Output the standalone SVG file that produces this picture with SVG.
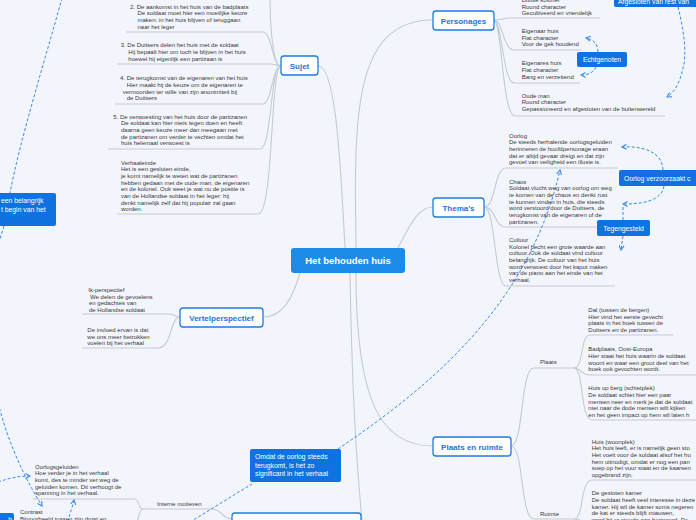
<svg xmlns="http://www.w3.org/2000/svg" width="696" height="520" viewBox="0 0 696 520">
<defs>
<style>
.bg{fill:#f3f5fc}
.t{font-family:"Liberation Sans",Arial,sans-serif;font-size:6px;fill:#3a3a3a}
.main rect{fill:#ffffff;stroke:#1f7be3;stroke-width:1.3}
.main text{font-family:"Liberation Sans",Arial,sans-serif;font-size:8px;font-weight:bold;fill:#2a72d6;text-anchor:middle}
.call rect{fill:#0f72e0}
.call text{font-family:"Liberation Sans",Arial,sans-serif;font-size:6.8px;fill:#ffffff}
.ln{fill:none;stroke:#c6cad3;stroke-width:1.1}
.rel{fill:none;stroke:#3a8ae6;stroke-width:1;stroke-dasharray:3,2}
</style>
<marker id="ar" viewBox="0 0 6 6" refX="5" refY="3" markerWidth="6" markerHeight="6" orient="auto" markerUnits="userSpaceOnUse">
<path d="M0.5,0.5 L5,3 L0.5,5.5" fill="none" stroke="#3a8ae6" stroke-width="1.1"/>
</marker>
</defs>
<rect class="bg" x="0" y="0" width="696" height="520"/>

<g id="connectors">
<!-- central to main topics -->
<path class="ln" d="M345,248 C340,150 335,66 318,66"/>
<path class="ln" d="M356,248 C354,120 352,20 433,20"/>
<path class="ln" d="M398,248 C410,225 418,207 433,207"/>
<path class="ln" d="M300,273 C292,300 282,317 263,317"/>
<path class="ln" d="M356,273 C356,400 380,446 433,446"/>
<path class="ln" d="M350,273 C352,400 358,480 362,520"/>
<!-- Sujet children -->
<path class="ln" d="M281,66 C272,66 270,20 270,-5"/>
<path class="ln" d="M281,66 C272,66 272,32 263,32 L126,32"/>
<path class="ln" d="M281,66 C276,66 276,64 270,64 L117,64"/>
<path class="ln" d="M281,66 C272,66 272,104 263,104 L115,104"/>
<path class="ln" d="M281,66 C270,66 272,149 260,149 L108,149"/>
<path class="ln" d="M281,66 C270,66 274,214 258,214 L117,214"/>
<!-- Personages children -->
<path class="ln" d="M494,20 C502,20 503,18 510,18 L600,18"/>
<path class="ln" d="M494,20 C503,20 503,50 514,50 L582,50"/>
<path class="ln" d="M494,20 C502,20 503,83 514,83 L580,83"/>
<path class="ln" d="M494,20 C502,20 502,116 515,116 L665,116"/>
<!-- Thema's children -->
<path class="ln" d="M484,207 C496,207 494,168 506,168 L618,168"/>
<path class="ln" d="M484,207 C496,207 494,227 506,227 L620,227"/>
<path class="ln" d="M484,207 C496,207 494,286 506,286 L615,286"/>
<!-- Vertelperspectief children -->
<path class="ln" d="M180,317 C174,317 176,314 168,314 L82,314"/>
<path class="ln" d="M180,317 C170,317 172,348 158,348 L82,348"/>
<!-- Plaats en ruimte -->
<path class="ln" d="M511,446 C524,446 520,368 534,368 L574,368"/>
<path class="ln" d="M511,446 C524,446 520,519 534,519 L574,519"/>
<path class="ln" d="M574,368 C584,368 580,335 590,335 L673,335"/>
<path class="ln" d="M574,368 C582,368 580,375 590,375 L696,375"/>
<path class="ln" d="M574,368 C584,368 580,420 592,420 L696,420"/>
<path class="ln" d="M574,519 C584,519 580,480 592,480 L696,480"/>
<path class="ln" d="M574,519 C584,519 582,525 590,528"/>
<!-- Interne motieven -->
<path class="ln" d="M232,519 C222,519 222,509 212,509 L143,509"/>
<path class="ln" d="M143,509 C138,509 140,499 134,499 L33,499"/>
<path class="ln" d="M143,509 C138,509 140,522 134,524"/>
<!-- relations (dashed) -->
<path class="rel" d="M62,-2 C45,60 20,140 10,193"/>
<path class="rel" d="M4,226 C-30,330 -5,430 42,506" marker-end="url(#ar)"/>
<path class="rel" d="M-2,482 C10,478 18,476 30,476" marker-end="url(#ar)"/>
<path class="rel" d="M68,522 C70,512 73,506 74,500" marker-end="url(#ar)"/>
<path class="rel" d="M190,522 C210,510 232,496 252,484"/>
<path class="rel" d="M338,449 C440,380 530,300 560,170" marker-end="url(#ar)"/>
<path class="rel" d="M663,170 C662,150 640,146 622,147" marker-end="url(#ar)"/>
<path class="rel" d="M664,186 C662,200 645,204 623,204" marker-end="url(#ar)"/>
<path class="rel" d="M623,220 L623,207"/>
<path class="rel" d="M623,236 L621,250" marker-end="url(#ar)"/>
<path class="rel" d="M598,52 C598,44 593,39 586,38" marker-end="url(#ar)"/>
<path class="rel" d="M596,67 C594,72 589,75 581,75" marker-end="url(#ar)"/>
<path class="rel" d="M678,7 C684,30 687,55 683,68 C680,82 675,92 667,97" marker-end="url(#ar)"/>
</g>

<g id="central">
<rect x="291" y="248" width="114" height="25" rx="3" fill="#1d8ce8"/>
<text x="348" y="264" font-family="Liberation Sans,Arial,sans-serif" font-size="9.5" font-weight="bold" fill="#ffffff" text-anchor="middle">Het behouden huis</text>
</g>

<g id="sujet" class="main"><rect x="281" y="56" width="37" height="19" rx="3"/><text x="299.5" y="68.8">Sujet</text></g>
<g id="personages" class="main"><rect x="433" y="11" width="61" height="19" rx="3"/><text x="463.5" y="23.8">Personages</text></g>
<g id="themas" class="main"><rect x="433" y="198" width="51" height="19" rx="3"/><text x="458.5" y="210.8">Thema's</text></g>
<g id="vertelperspectief" class="main"><rect x="180" y="308" width="83" height="19" rx="3"/><text x="221.5" y="320.8">Vertelperspectief</text></g>
<g id="plaats-en-ruimte" class="main"><rect x="433" y="437" width="78" height="19" rx="3"/><text x="472" y="449.8">Plaats en ruimte</text></g>
<g id="bottom-topic" class="main"><rect x="232" y="513" width="129" height="19" rx="3"/></g>

<g id="sujet-2"><text class="t"><tspan x="130" y="8.7">2. De aankomst in het huis van de badplaats</tspan><tspan x="137.5" y="15.3">De soldaat moet hier een moeilijke keuze</tspan><tspan x="137.5" y="22">maken: in het huis blijven of teruggaan</tspan><tspan x="137.5" y="28.7">naar het leger</tspan></text></g>
<g id="sujet-3"><text class="t"><tspan x="120.7" y="47">3. De Duitsers delen het huis met de soldaat</tspan><tspan x="128.3" y="54">Hij bepaalt hier om toch te blijven in het huis</tspan><tspan x="128.3" y="61">hoewel hij eigenlijk een partizaan is</tspan></text></g>
<g id="sujet-4"><text class="t"><tspan x="120" y="80.3">4. De terugkomst van de eigenaren van het huis</tspan><tspan x="126.7" y="87">Hier maakt hij de keuze om de eigenaren te</tspan><tspan x="122.7" y="93.7">vermoorden ter wille van zijn anonimiteit bij</tspan><tspan x="126.7" y="100.3">de Duitsers</tspan></text></g>
<g id="sujet-5"><text class="t"><tspan x="113.3" y="118.7">5. De verwoesting van het huis door de partizanen</tspan><tspan x="121" y="125.4">De soldaat kan hier niets tegen doen en heeft</tspan><tspan x="121" y="132">daarna geen keuze meer dan meegaan met</tspan><tspan x="121" y="138.7">de partizanen om verder te vechten omdat het</tspan><tspan x="121" y="145.3">huis helemaal verwoest is</tspan></text></g>
<g id="sujet-einde"><text class="t"><tspan x="121" y="164.7">Verhaaleinde</tspan><tspan x="121" y="171.3">Het is een gesloten einde,</tspan><tspan x="121" y="178">je komt namelijk te weten wat de partizanen</tspan><tspan x="121" y="184.7">hebben gedaan met de oude man, de eigenaren</tspan><tspan x="121" y="191.3">en de kolonel. Ook weet je wat nu de positie is</tspan><tspan x="121" y="198">van de Hollandse soldaat in het leger: hij</tspan><tspan x="121" y="204.7">denkt namelijk zelf dat hij populair zal gaan</tspan><tspan x="121" y="211.3">worden.</tspan></text></g>

<g id="pers-kolonel"><text class="t"><tspan x="521.7" y="2">Duitse kolonel</tspan><tspan x="521.7" y="8.6">Round character</tspan><tspan x="521.7" y="15.3">Gecultiveerd en vriendelijk</tspan></text></g>
<g id="pers-eigenaar"><text class="t"><tspan x="521.7" y="33">Eigenaar huis</tspan><tspan x="521.7" y="39.7">Flat character</tspan><tspan x="521.7" y="46.3">Voor de gek houdend</tspan></text></g>
<g id="pers-eigenares"><text class="t"><tspan x="521.7" y="65.3">Eigenares huis</tspan><tspan x="521.7" y="72">Flat character</tspan><tspan x="521.7" y="78.7">Bang en verzettend</tspan></text></g>
<g id="pers-oudeman"><text class="t"><tspan x="521.7" y="97.7">Oude man</tspan><tspan x="521.7" y="104.4">Round character</tspan><tspan x="521.7" y="111">Gepassioneerd en afgesloten van de buitenwereld</tspan></text></g>

<g id="thema-oorlog"><text class="t"><tspan x="509" y="137.7">Oorlog</tspan><tspan x="509" y="144.4">De steeds herhalende oorlogsgeluiden</tspan><tspan x="509" y="151">herinneren de hoofdpersonage eraan</tspan><tspan x="509" y="157.7">dat er altijd gevaar dreigt en dat zijn</tspan><tspan x="509" y="164.4">gevoel van veiligheid een illusie is.</tspan></text></g>
<g id="thema-chaos"><text class="t"><tspan x="509" y="183.7">Chaos</tspan><tspan x="509" y="190.4">Soldaat vlucht weg van oorlog om weg</tspan><tspan x="509" y="197">te komen van de chaos en denkt rust</tspan><tspan x="509" y="203.7">te kunnen vinden in huis, die steeds</tspan><tspan x="509" y="210.4">word verstoord door de Duitsers, de</tspan><tspan x="509" y="217">terugkomst van de eigenaren of de</tspan><tspan x="509" y="223.7">partizanen.</tspan></text></g>
<g id="thema-cultuur"><text class="t"><tspan x="509" y="242">Cultuur</tspan><tspan x="509" y="248.7">Kolonel hecht een grote waarde aan</tspan><tspan x="509" y="255.3">cultuur. Ook de soldaat vind cultuur</tspan><tspan x="509" y="262">belangrijk. De cultuur van het huis</tspan><tspan x="509" y="268.7">word verwoest door het kapot maken</tspan><tspan x="509" y="275.3">van de piano aan het einde van het</tspan><tspan x="509" y="282">verhaal.</tspan></text></g>

<g id="vp-ik"><text class="t"><tspan x="88.3" y="292">Ik-perspectief</tspan><tspan x="90" y="298.7">We delen de gevoelens</tspan><tspan x="89" y="305.3">en gedachtes van</tspan><tspan x="89" y="312">de Hollandse soldaat</tspan></text></g>
<g id="vp-invloed"><text class="t"><tspan x="87.3" y="332">De invloed ervan is dat</tspan><tspan x="87.3" y="338.7">we ons meer betrokken</tspan><tspan x="87.3" y="345.3">voelen bij het verhaal</tspan></text></g>

<g id="plaats"><text class="t" x="540" y="364">Plaats</text></g>
<g id="ruimte"><text class="t" x="540" y="515.5">Ruimte</text></g>
<g id="plaats-dal"><text class="t"><tspan x="588.3" y="312">Dal (tussen de bergen)</tspan><tspan x="588.3" y="318.7">Hier vind het eerste gevecht</tspan><tspan x="588.3" y="325.3">plaats in het boek tussen de</tspan><tspan x="588.3" y="332">Duitsers en de partizanen.</tspan></text></g>
<g id="plaats-badplaats"><text class="t"><tspan x="588.3" y="351.3">Badplaats, Oost-Europa</tspan><tspan x="588.3" y="358">Hier staat het huis waarin de soldaat</tspan><tspan x="588.3" y="364.7">woont en waar een groot deel van het</tspan><tspan x="588.3" y="371.3">boek ook gevochten wordt.</tspan></text></g>
<g id="plaats-berg"><text class="t"><tspan x="588.3" y="390.3">Huis op berg (schietplek)</tspan><tspan x="588.3" y="397">De soldaat schiet hier een paar</tspan><tspan x="588.3" y="403.7">mensen neer en merk je dat de soldaat</tspan><tspan x="588.3" y="410.3">niet naar de dode mensen wilt kijken</tspan><tspan x="588.3" y="417">en het geen impact op hem wil laten h</tspan></text></g>
<g id="ruimte-huis"><text class="t"><tspan x="591.7" y="443.7">Huis (woonplek)</tspan><tspan x="591.7" y="450.3">Het huis leeft, er is namelijk geen sto</tspan><tspan x="591.7" y="457">Het voelt voor de soldaat alsof het hu</tspan><tspan x="591.7" y="463.7">hem uitnodigt, omdat er nog een pan</tspan><tspan x="591.7" y="470.3">soep op het vuur staat en de kaarsen</tspan><tspan x="591.7" y="477">opgebrand zijn.</tspan></text></g>
<g id="ruimte-kamer"><text class="t"><tspan x="591.7" y="495.3">De gesloten kamer</tspan><tspan x="591.7" y="502">De soldaat heeft veel interesse in deze</tspan><tspan x="591.7" y="508.7">kamer. Hij wil de kamer soms negeren</tspan><tspan x="591.7" y="515.3">de kat er steeds blijft miauwen,</tspan><tspan x="591.7" y="522">word hij er steeds aan herinnerd. De</tspan></text></g>

<g id="interne-motieven"><text class="t" x="157" y="505.5">Interne motieven</text></g>
<g id="oorlogsgeluiden"><text class="t"><tspan x="35" y="468.7">Oorlogsgeluiden</tspan><tspan x="35" y="475.3">Hoe verder je in het verhaal</tspan><tspan x="35" y="482">komt, des te minder ver weg de</tspan><tspan x="35" y="488.7">geluiden komen. Dit verhoogt de</tspan><tspan x="35" y="495.3">spanning in het verhaal.</tspan></text></g>
<g id="contrast"><text class="t"><tspan x="20" y="514">Contrast</tspan><tspan x="20" y="520.5">Bijvoorbeeld tussen zijn dorst en</tspan></text></g>

<g id="call-afgesloten" class="call"><rect x="614" y="-12" width="90" height="19" rx="2"/><text x="618" y="3.5">Afgesloten van rest van</text></g>
<g id="call-echtgenoten" class="call"><rect x="577" y="52" width="50" height="15" rx="2"/><text x="602" y="62" text-anchor="middle">Echtgenoten</text></g>
<g id="call-oorlog" class="call"><rect x="619" y="170" width="85" height="16" rx="2"/><text x="624" y="180.5">Oorlog verzoorzaakt c</text></g>
<g id="call-tegengesteld" class="call"><rect x="597" y="220" width="53" height="16" rx="2"/><text x="623.5" y="230.5" text-anchor="middle">Tegengesteld</text></g>
<g id="call-belangrijk" class="call"><rect x="-20" y="193" width="76" height="33" rx="2"/><text><tspan x="1" y="203">een belangrijk</tspan><tspan x="1" y="211.5">t begin van het</tspan></text></g>
<g id="call-omdat" class="call"><rect x="250" y="449" width="91" height="33" rx="2"/><text><tspan x="255" y="459">Omdat de oorlog steeds</tspan><tspan x="255" y="467.5">terugkomt, is het zo</tspan><tspan x="255" y="476">significant in het verhaal</tspan></text></g>
<g id="call-bottom-left" class="call"><rect x="-30" y="513" width="44" height="15" rx="2"/><text x="12" y="521.5" text-anchor="end">h</text></g>
</svg>
